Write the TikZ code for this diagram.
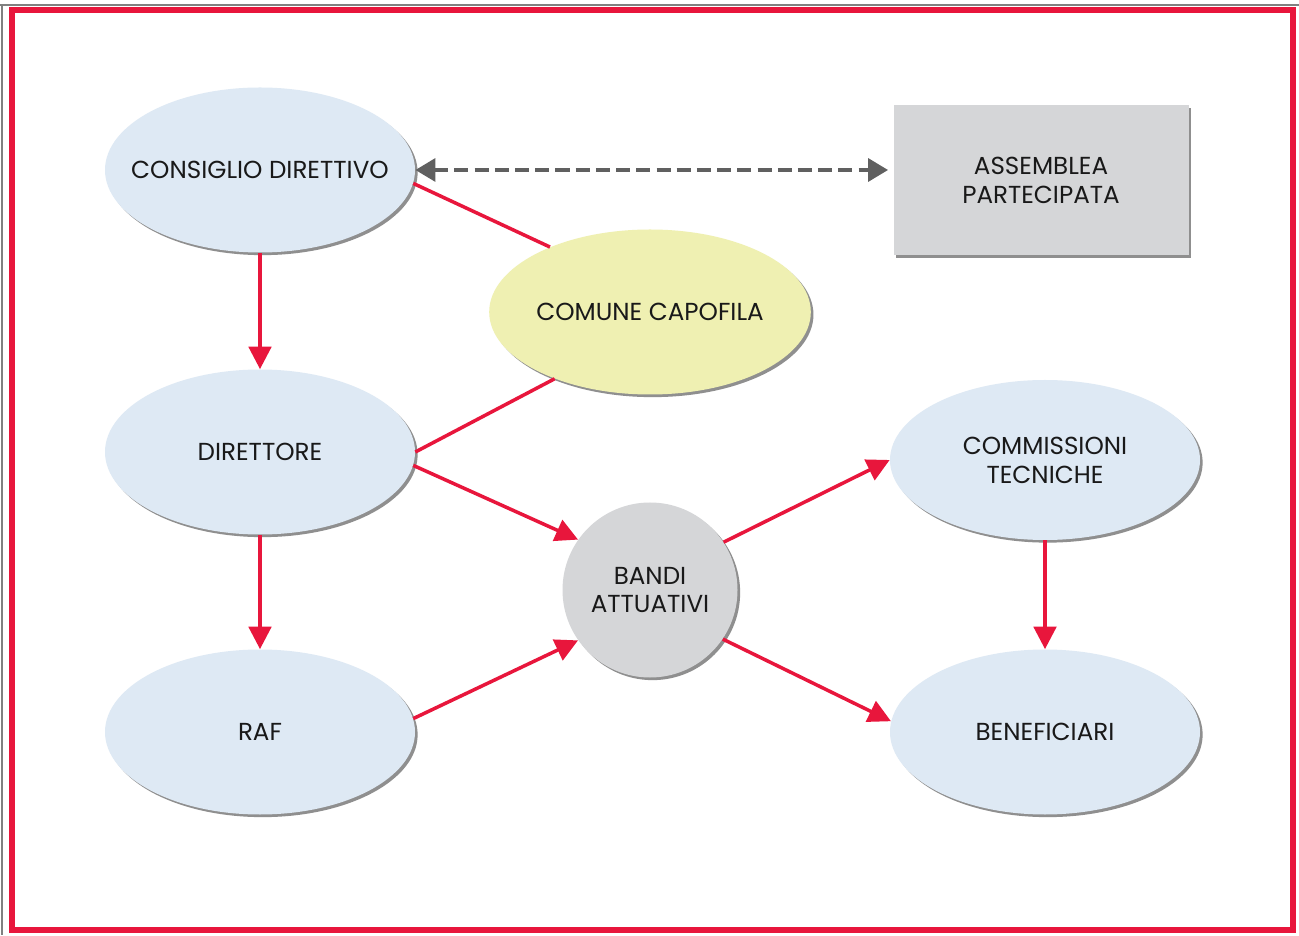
\documentclass[tikz,border=0pt]{standalone}
\usepackage{fontspec}
\setmainfont{Poppins}
\usepackage{tikz}
\usetikzlibrary{arrows.meta}
\usetikzlibrary{positioning}
\usetikzlibrary{shadows}
\usetikzlibrary{shapes}
\usetikzlibrary{backgrounds}

\definecolor{frame}{RGB}{232,22,60}
\definecolor{nodeblue}{RGB}{222,233,244}
\definecolor{nodeyellow}{RGB}{239,240,178}
\definecolor{nodegray}{RGB}{213,214,216}
\definecolor{dashgray}{RGB}{96,96,96}

\begin{document}
\begin{tikzpicture}[font=\fontsize{14}{16.5}\selectfont,
                office/.style={ellipse, drop shadow={shadow xshift=1.5pt, shadow yshift=-1.5pt, fill=black!55, opacity=0.8},
                    fill=nodeblue, minimum width=6.2cm, minimum height=3.3cm, inner sep=0pt, align=center, text=black!90},
                hub/.style={office, fill=nodeyellow, minimum width=6.4cm},
                bandi/.style={circle, drop shadow={shadow xshift=1.5pt, shadow yshift=-1.5pt, fill=black!55, opacity=0.8},
                    fill=nodegray, minimum size=3.5cm, align=center, text=black!90},
                assembly/.style={rectangle, drop shadow={shadow xshift=1.5pt, shadow yshift=-1.5pt, fill=black!55, opacity=0.8},
                    fill=nodegray, minimum width=5.9cm, minimum height=3cm, align=center, text=black!90},
                link/.style={draw=frame, line width=2pt},
                arrow/.style={link, -{Triangle[length=4.5mm, width=4.5mm]}},
                dasharrow/.style={draw=dashgray, line width=2.6pt, dash pattern=on 8pt off 3.5pt,
                    {Triangle[length=4mm, width=4.5mm]}-{Triangle[length=4mm, width=4.5mm]}}
            ]
            \useasboundingbox (0,0) rectangle (25.98,18.7);
            \draw[gray, line width=0.6pt] (0,18.6) -- (25.98,18.6);
            \draw[gray, line width=0.6pt] (0.04,18.6) -- (0.04,0);
            \draw[frame, line width=3pt, fill=white] (0.24,0.1) rectangle (25.86,18.5);

            \node[office, inner xsep=-0.9cm](cd) at (5.2,15.3){CONSIGLIO DIRETTIVO};
            \node[office](dir) at (5.2,9.66){DIRETTORE};
            \node[office](raf) at (5.2,4.06){RAF};
            \node[hub](cc) at (13,12.46){COMUNE CAPOFILA};
            \node[bandi](ba) at (13,6.9){BANDI\\ATTUATIVI};
            \node[office, minimum height=3.2cm](ct) at (20.9,9.5){COMMISSIONI\\TECNICHE};
            \node[office](ben) at (20.9,4.06){BENEFICIARI};
            \node[assembly](ap) at (20.82,15.1){ASSEMBLEA\\PARTECIPATA};

            \path[dasharrow, shorten >=0.1cm] (cd.east) -- (cd.east -| ap.west);
            \path[link] (cd.-5) -- (cc.147);
            \path[link] (dir.east) -- (cc.215);
            \path[arrow] (cd) -- (dir);
            \path[arrow] (dir) -- (raf);
            \path[arrow] (dir.-5) -- (ba.145);
            \path[arrow] (raf.5) -- (ba.215);
            \path[arrow] (ba.33) -- (ct.west);
            \path[arrow] (ba.-34) -- (ben.176);
            \path[arrow] (ct) -- (ben);
        \end{tikzpicture}
\end{document}
